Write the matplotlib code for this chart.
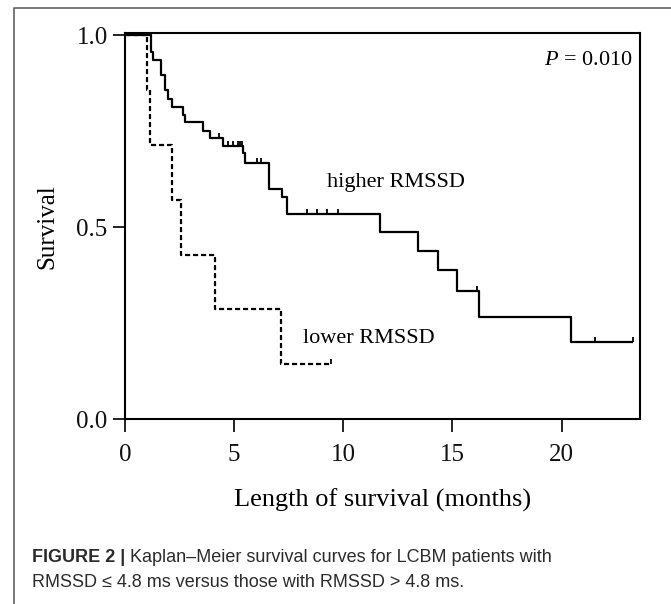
import numpy as np
import matplotlib
matplotlib.use("Agg")
import matplotlib.pyplot as plt
from matplotlib.lines import Line2D

plt.rcParams['font.family'] = ['Liberation Serif', 'DejaVu Serif']
plt.rcParams['mathtext.fontset'] = 'custom'
plt.rcParams['mathtext.rm'] = 'Liberation Serif'
plt.rcParams['mathtext.it'] = 'Liberation Serif:italic'

# step data (months, survival after each drop)
higher_t = [0, 1.19, 1.30, 1.65, 1.83, 1.98, 2.14, 2.67, 2.75, 3.56, 3.89, 4.50,
            5.39, 5.50, 6.61, 7.18, 7.43, 11.68, 13.44, 14.32, 15.22, 16.23, 20.42]
higher_s = [1.0, 0.957, 0.936, 0.897, 0.858, 0.834, 0.812, 0.792, 0.775, 0.752, 0.732, 0.712,
            0.693, 0.667, 0.600, 0.580, 0.535, 0.487, 0.438, 0.389, 0.335, 0.267, 0.202]
higher_end = 23.28
higher_censor = [4.31, 4.73, 4.96, 5.18, 5.27, 5.35, 6.03, 6.22, 8.32, 8.78, 9.24, 9.77,
                 16.11, 21.53, 23.28]

lower_t = [0, 0.99, 1.15, 2.14, 2.58, 4.12, 7.15]
lower_s = [1.0, 0.857, 0.714, 0.571, 0.429, 0.286, 0.143]
lower_end = 9.44
lower_censor = [9.44]

xticks = [0, 5, 10, 15, 20]
yticks = [0.0, 0.5, 1.0]
ytick_labels = ['0.0', '0.5', '1.0']

W, H = 671, 604
fig = plt.figure(figsize=(W / 100, H / 100), dpi=100)
ax = fig.add_axes([125 / W, 1 - 419.3 / H, (640 - 125) / W, (419.3 - 33) / H])


def draw_km(t, s, end, censor, **kw):
    tt = list(t) + [end]
    ss = list(s) + [s[-1]]
    ax.step(tt, ss, where='post', color='black', lw=1.6, **kw)
    idx = np.searchsorted(t, censor, side='right') - 1
    cs = np.array(s)[idx]
    ax.vlines(censor, cs, cs + 0.013, color='black', lw=1.3)


draw_km(higher_t, higher_s, higher_end, higher_censor, solid_capstyle='butt')
draw_km(lower_t, lower_s, lower_end, lower_censor, linestyle=(0, (2.3, 1.3)))

ax.set_xlim(0, 23.59)
ax.set_ylim(0, 1.006)
ax.set_xticks(xticks)
ax.set_yticks(yticks)
ax.set_yticklabels(ytick_labels)
for sp in ax.spines.values():
    sp.set_linewidth(1.5)
ax.tick_params(axis='both', direction='out', length=9, width=1.3, labelsize=18, colors='#111111')
ax.tick_params(axis='x', pad=9)
ax.tick_params(axis='y', pad=3.5)

ax.text(9.25, 0.606, 'higher RMSSD', fontsize=16, va='baseline', ha='left')
ax.text(8.15, 0.198, 'lower RMSSD', fontsize=16, va='baseline', ha='left')
ax.text(23.26, 0.923, r'$P$ = 0.010', fontsize=16, va='baseline', ha='right')

fig.text(382.5 / W, 1 - 507 / H, 'Length of survival (months)', fontsize=19,
         ha='center', va='baseline')
fig.text(58 / W, 1 - 227 / H, 'Survival', fontsize=18, rotation=90,
         ha='right', va='center')

# outer figure frame (left and top edges visible)
fig.add_artist(Line2D([14 / W, 14 / W, 1], [0, 1 - 8 / H, 1 - 8 / H],
                      transform=fig.transFigure, color='#555555', lw=1.1))

# caption
cap_font = ['Liberation Sans', 'DejaVu Sans']
t1 = fig.text(31.7 / W, 1 - 561.7 / H, 'FIGURE 2 |', fontsize=13, family=cap_font,
              weight='bold', color='#2b2b2b', va='baseline', ha='left')
fig.canvas.draw()
bb = t1.get_window_extent()
fig.text(bb.x1 / W, 1 - 561.7 / H, ' Kaplan\u2013Meier survival curves for LCBM patients with',
         fontsize=13, family=cap_font, color='#2b2b2b', va='baseline', ha='left')
fig.text(31.7 / W, 1 - 586.7 / H, 'RMSSD \u2264 4.8 ms versus those with RMSSD > 4.8 ms.',
         fontsize=13, family=cap_font, color='#2b2b2b', va='baseline', ha='left')

fig.savefig('out.png', dpi=100)
